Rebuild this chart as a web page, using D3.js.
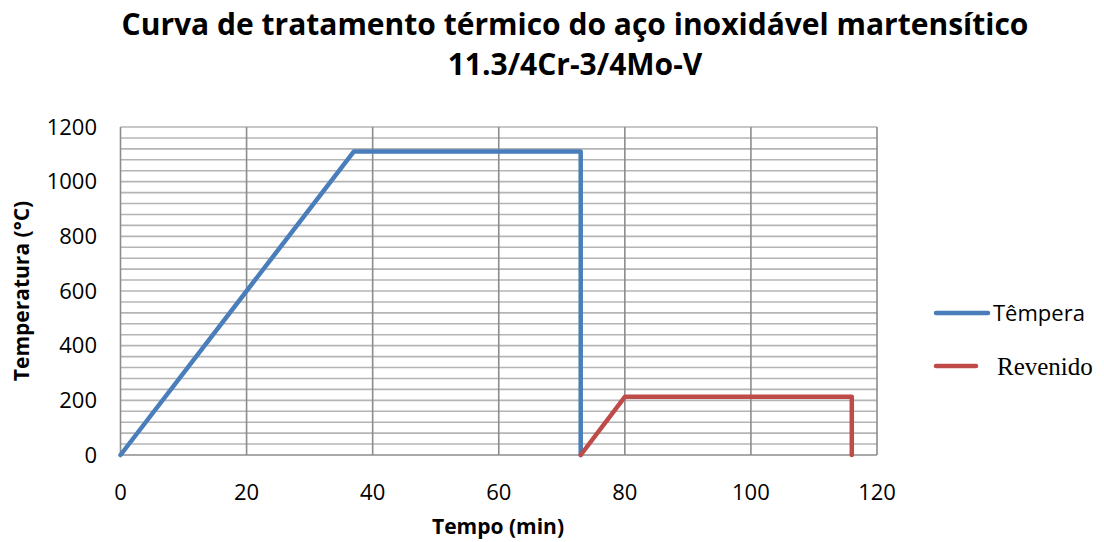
<!DOCTYPE html>
<html><head><meta charset="utf-8">
<script src="https://cdn.jsdelivr.net/npm/d3@7"></script>
<style>body{margin:0;background:#fff}</style>
</head><body>
<script>
const titleLines = ["Curva de tratamento térmico do aço inoxidável martensítico", "11.3/4Cr-3/4Mo-V"];
const xTicks = [0, 20, 40, 60, 80, 100, 120];
const yTicks = [0, 200, 400, 600, 800, 1000, 1200];
const temperaTime = [0, 37, 73, 73];
const temperaTemp = [0, 1110, 1110, 0];
const revenidoTime = [73, 80, 116, 116];
const revenidoTemp = [0, 213, 213, 0];
const seriesNames = ["Têmpera", "Revenido"];

const W = 1104, H = 542;
const svg = d3.select("body").append("svg").attr("width", W).attr("height", H);
const x = d3.scaleLinear().domain([0, 120]).range([120.5, 877]);
const y = d3.scaleLinear().domain([0, 1200]).range([455, 127]);

// minor horizontal gridlines
const minor = d3.range(40, 1201, 40);
svg.append("g").selectAll("line").data(minor).join("line")
  .attr("x1", x(0)).attr("x2", x(120)).attr("y1", d => y(d)).attr("y2", d => y(d))
  .attr("stroke", "#b4b4b4").attr("stroke-width", 1.6);
// vertical gridlines
svg.append("g").selectAll("line").data(xTicks.slice(1)).join("line")
  .attr("x1", d => x(d)).attr("x2", d => x(d)).attr("y1", y(0)).attr("y2", y(1200))
  .attr("stroke", "#8c8c8c").attr("stroke-width", 1.6);
// axes lines
svg.append("line").attr("x1", x(0)).attr("x2", x(0)).attr("y1", y(0)).attr("y2", y(1200))
  .attr("stroke", "#8c8c8c").attr("stroke-width", 1.6);
svg.append("line").attr("x1", x(0)).attr("x2", x(120)).attr("y1", y(0)).attr("y2", y(0))
  .attr("stroke", "#8c8c8c").attr("stroke-width", 1.6);

const font = "'Open Sans', sans-serif";
svg.append("g").selectAll("text").data(yTicks).join("text")
  .attr("x", 97).attr("y", d => y(d)).attr("dy", "0.35em").attr("text-anchor", "end")
  .attr("font-family", font).attr("font-size", 22).attr("fill", "#000").text(d => d);
svg.append("g").selectAll("text").data(xTicks).join("text")
  .attr("x", d => x(d)).attr("y", 492).attr("dy", "0.35em").attr("text-anchor", "middle")
  .attr("font-family", font).attr("font-size", 22).attr("fill", "#000").text(d => d);

const line = d3.line().x(d => x(d[0])).y(d => y(d[1]));
const temperaPts = temperaTime.map((t, i) => [t, temperaTemp[i]]);
const revenidoPts = revenidoTime.map((t, i) => [t, revenidoTemp[i]]);
svg.append("path").attr("d", line(temperaPts)).attr("fill", "none")
  .attr("stroke", "#4a7ebb").attr("stroke-width", 4.5).attr("stroke-linejoin", "round").attr("stroke-linecap", "round");
svg.append("path").attr("d", line(revenidoPts)).attr("fill", "none")
  .attr("stroke", "#be4b48").attr("stroke-width", 4.5).attr("stroke-linejoin", "round").attr("stroke-linecap", "round");

// title
svg.append("g").selectAll("text").data(titleLines).join("text")
  .attr("x", 575).attr("y", (d, i) => 35 + i * 40).attr("text-anchor", "middle")
  .attr("font-family", font).attr("font-weight", "bold").attr("font-size", 30).attr("fill", "#000").text(d => d);

// axis titles
svg.append("text").attr("x", 498).attr("y", 527).attr("dy", "0.35em").attr("text-anchor", "middle")
  .attr("font-family", font).attr("font-weight", "bold").attr("font-size", 21).text("Tempo (min)");
svg.append("text").attr("transform", "translate(22,291) rotate(-90)").attr("dy", "0.35em").attr("text-anchor", "middle")
  .attr("font-family", font).attr("font-weight", "bold").attr("font-size", 21).text("Temperatura (°C)");

// legend
svg.append("line").attr("x1", 936).attr("x2", 988).attr("y1", 313).attr("y2", 313)
  .attr("stroke", "#4a7ebb").attr("stroke-width", 4.5).attr("stroke-linecap", "round");
svg.append("text").attr("x", 993).attr("y", 313).attr("dy", "0.35em")
  .attr("font-family", font).attr("font-size", 22).text(seriesNames[0]);
svg.append("line").attr("x1", 936).attr("x2", 976).attr("y1", 366).attr("y2", 366)
  .attr("stroke", "#be4b48").attr("stroke-width", 4.5).attr("stroke-linecap", "round");
svg.append("text").attr("x", 997).attr("y", 366).attr("dy", "0.35em")
  .attr("font-family", "'Liberation Serif', serif").attr("font-size", 25).text(seriesNames[1]);
</script>
</body></html>
